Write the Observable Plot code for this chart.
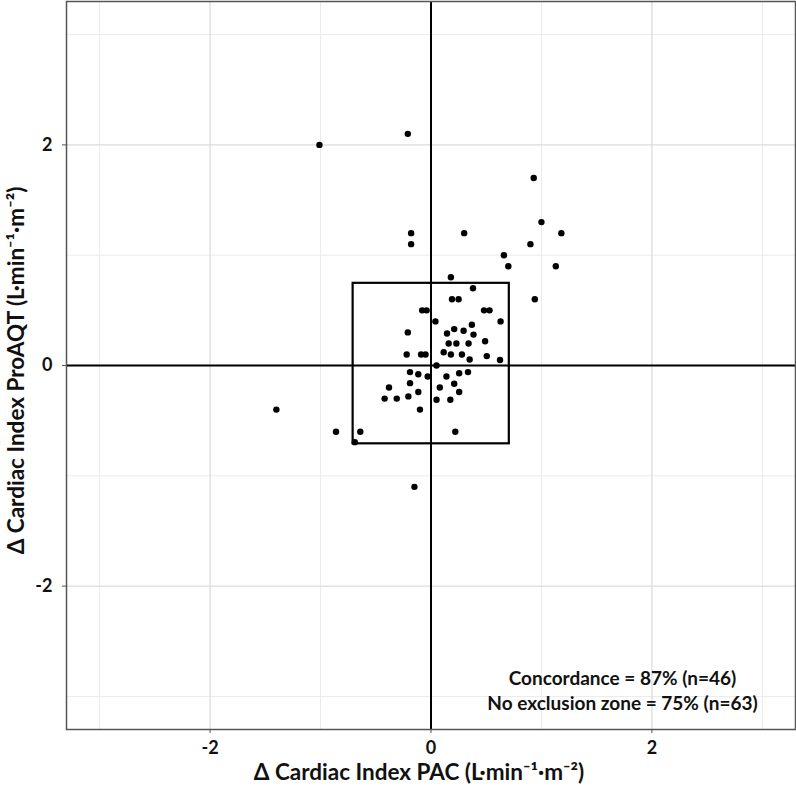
<!DOCTYPE html>
<html>
<head>
<meta charset="utf-8">
<script src="https://cdn.jsdelivr.net/npm/d3@7"></script>
<script src="https://cdn.jsdelivr.net/npm/@observablehq/plot@0.6"></script>
<style>
  html, body { margin: 0; padding: 0; background: #fff; }
  #chart svg { display: block; }
</style>
</head>
<body>
<div id="chart"></div>
<script>
// Δ Cardiac Index PAC (x) vs Δ Cardiac Index ProAQT (y)
const pacDelta = [
  -1.01, -0.21, 0.93, 1.00, -0.18, 0.30, 1.18, -0.18, 0.90, 0.66,
   0.70, 1.13, 0.18, 0.38, 0.19, 0.25, 0.94, -0.08, -0.04, 0.48,
   0.53, 0.04, 0.63, -0.21, 0.145, 0.21, 0.295, 0.37, 0.385, 0.16,
   0.23, 0.34, 0.49, -0.22, -0.09, -0.05, 0.115, 0.18, 0.28, 0.35,
   0.505, 0.625, 0.05, -0.19, -0.115, -0.03, 0.14, 0.255, 0.335, -0.38,
  -0.19, 0.08, 0.21, -0.42, -0.31, -0.205, -0.115, 0.255, 0.05, 0.175,
  -0.10, -1.40, -0.86, -0.64, 0.22, -0.69, -0.15
];
const proaqtDelta = [
   2.00, 2.10, 1.70, 1.30, 1.20, 1.20, 1.20, 1.10, 1.10, 1.00,
   0.90, 0.90, 0.80, 0.70, 0.60, 0.60, 0.60, 0.50, 0.50, 0.50,
   0.50, 0.40, 0.40, 0.30, 0.29, 0.33, 0.315, 0.37, 0.28, 0.20,
   0.20, 0.20, 0.22, 0.10, 0.10, 0.10, 0.12, 0.10, 0.10, 0.055,
   0.085, 0.05, 0.00, -0.06, -0.08, -0.10, -0.10, -0.07, -0.06, -0.20,
  -0.16, -0.20, -0.165, -0.30, -0.30, -0.28, -0.24, -0.24, -0.31, -0.31,
  -0.40, -0.40, -0.60, -0.60, -0.60, -0.695, -1.10
];

// exclusion zone box
const zoneX = [-0.705, 0.709];
const zoneY = [-0.71, 0.745];

const axisDomain = [-3.3, 3.3];
const tickLabels = [-2, 0, 2];
const gridValues = [-3, -1, 1, 3];
const majorGrid = [-2, 0, 2];

const xTitle = "Δ Cardiac Index PAC (L·min⁻¹·m⁻²)";
const yTitle = "Δ Cardiac Index ProAQT (L·min⁻¹·m⁻²)";
const annotation = ["Concordance = 87% (n=46)", "No exclusion zone = 75% (n=63)"];

const points = pacDelta.map((x, i) => ({x, y: proaqtDelta[i]}));
const zone = [{x1: zoneX[0], x2: zoneX[1], y1: zoneY[0], y2: zoneY[1]}];

const font = "Lato, Roboto, sans-serif";
const fmt = d => String(d);

const chart = Plot.plot({
  width: 796,
  height: 788,
  marginLeft: 66,
  marginRight: 1,
  marginTop: 1,
  marginBottom: 59,
  style: {fontFamily: font, background: "#fff", color: "#111"},
  x: {domain: axisDomain},
  y: {domain: axisDomain},
  marks: [
    Plot.gridX(gridValues, {stroke: "#ebebeb", strokeOpacity: 1, strokeWidth: 1}),
    Plot.gridY(gridValues, {stroke: "#ebebeb", strokeOpacity: 1, strokeWidth: 1}),
    Plot.gridX(majorGrid, {stroke: "#dcdcdc", strokeOpacity: 1, strokeWidth: 1.3}),
    Plot.gridY(majorGrid, {stroke: "#dcdcdc", strokeOpacity: 1, strokeWidth: 1.3}),
    Plot.axisX(tickLabels, {tickSize: 4, tickPadding: 8, tickFormat: fmt, fontSize: 18, fontWeight: "bold", stroke: "#555", fill: "#111", label: null}),
    Plot.axisY(tickLabels, {tickSize: 4, tickPadding: 10, tickFormat: fmt, fontSize: 18, fontWeight: "bold", stroke: "#555", fill: "#111", label: null}),
    Plot.ruleX([0], {stroke: "#000", strokeWidth: 2}),
    Plot.ruleY([0], {stroke: "#000", strokeWidth: 2}),
    Plot.rect(zone, {x1: "x1", x2: "x2", y1: "y1", y2: "y2", fill: "none", stroke: "#000", strokeWidth: 2.2}),
    Plot.dot(points, {x: "x", y: "y", r: 3.2, fill: "#000", stroke: null}),
    Plot.frame({stroke: "#555", strokeWidth: 1.5}),
    Plot.text([annotation.join("\n")], {frameAnchor: "bottom-right", textAnchor: "middle", lineAnchor: "middle", lineHeight: 1.32, dx: -173, dy: -40, fontSize: 19, fontWeight: "bold", fill: "#111"}),
    Plot.text([xTitle], {frameAnchor: "bottom", textAnchor: "middle", dy: 50, dx: -12, fontSize: 22.5, fontWeight: "bold", fill: "#111"}),
    Plot.text([yTitle], {frameAnchor: "left", textAnchor: "middle", rotate: -90, dx: -50, dy: 5, fontSize: 22.5, fontWeight: "bold", fill: "#111"})
  ]
});

document.getElementById("chart").appendChild(chart);
</script>
</body>
</html>
